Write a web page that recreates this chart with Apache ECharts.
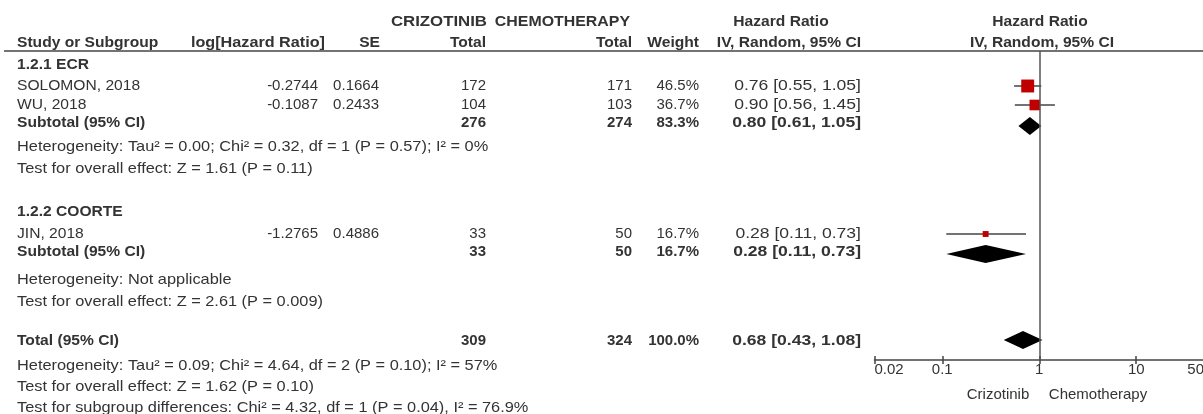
<!DOCTYPE html>
<html>
<head>
<meta charset="utf-8">
<script src="https://cdn.jsdelivr.net/npm/echarts@6/dist/echarts.min.js"></script>
<style>
  html, body { margin: 0; padding: 0; background: #fff; }
  #chart { width: 1203px; height: 414px; }
</style>
</head>
<body>
<div id="chart"></div>
<script>
// studies
const groups = ['1.2.1 ECR', '1.2.2 COORTE'];
const studies = ['SOLOMON, 2018', 'WU, 2018', 'JIN, 2018'];
const studyGroup = [0, 0, 1];
const logHR = [-0.2744, -0.1087, -1.2765];
const se = [0.1664, 0.2433, 0.4886];
const crizTotal = [172, 104, 33];
const chemoTotal = [171, 103, 50];
const weight = [46.5, 36.7, 16.7];
const hr = [0.76, 0.90, 0.28];
const hrLow = [0.55, 0.56, 0.11];
const hrHigh = [1.05, 1.45, 0.73];

// subtotals per group
const subCriz = [276, 33];
const subChemo = [274, 50];
const subWeight = [83.3, 16.7];
const subHR = [0.80, 0.28];
const subLow = [0.61, 0.11];
const subHigh = [1.05, 0.73];
const subHet = [
  'Heterogeneity: Tau² = 0.00; Chi² = 0.32, df = 1 (P = 0.57); I² = 0%',
  'Heterogeneity: Not applicable'
];
const subTest = [
  'Test for overall effect: Z = 1.61 (P = 0.11)',
  'Test for overall effect: Z = 2.61 (P = 0.009)'
];

// overall
const totalCriz = 309;
const totalChemo = 324;
const totalWeight = 100.0;
const totalHR = [0.68, 0.43, 1.08]; // est, low, high
const totalNotes = [
  'Heterogeneity: Tau² = 0.09; Chi² = 4.64, df = 2 (P = 0.10); I² = 57%',
  'Test for overall effect: Z = 1.62 (P = 0.10)',
  'Test for subgroup differences: Chi² = 4.32, df = 1 (P = 0.04), I² = 76.9%'
];

const axisTicks = [0.02, 0.1, 1, 10, 50];
const favours = ['Crizotinib', 'Chemotherapy'];

// row layout (pixel rows)
const rowStudy = [86, 105, 234];
const rowGroup = [65, 212];
const rowSub = [123, 252];
const rowSubDiamond = [126, 254];
const rowHet = [147, 280];
const rowTest = [169, 302];
const rowTotal = 341;
const rowTotalDiamond = 340;
const rowNotes = [366, 387, 408];

const FONT = '"Liberation Sans", Arial, sans-serif';
const TXT = '#333';
const col = { name: 17, loghr: 318, se: 379, criz: 486, chemo: 632, weight: 699, ci: 861 };
// horizontal stretch of the source text
const SX = { plain: 1.04, note: 1.09, ci: 1.17, head: 1.04 };

const ciText = (e, l, h) => e.toFixed(2) + ' [' + l.toFixed(2) + ', ' + h.toFixed(2) + ']';

const texts = [];
function txt(s, x, y, align, bold, sx) {
  texts.push({
    type: 'text', x: x, y: y, scaleX: sx || 1, silent: true,
    style: {
      text: String(s), x: 0, y: 0, fill: TXT,
      fontSize: 15, fontFamily: FONT, fontWeight: bold ? 'bold' : 'normal',
      textAlign: align || 'left', textVerticalAlign: 'middle'
    }
  });
}

// header
txt('CRIZOTINIB', col.criz + 1, 22, 'right', true, 1.12);
txt('CHEMOTHERAPY', col.chemo - 2, 22, 'right', true, 1.06);
txt('Hazard Ratio', 781, 22, 'center', true, SX.head);
txt('Hazard Ratio', 1040, 22, 'center', true, SX.head);
txt('Study or Subgroup', col.name, 43, 'left', true, SX.head);
txt('log[Hazard Ratio]', col.loghr + 7, 43, 'right', true, 1.08);
txt('SE', col.se + 1, 43, 'right', true, SX.head);
txt('Total', col.criz, 43, 'right', true, SX.head);
txt('Total', col.chemo, 43, 'right', true, SX.head);
txt('Weight', col.weight, 43, 'right', true, SX.head);
txt('IV, Random, 95% CI', col.ci, 43, 'right', true, SX.head);
txt('IV, Random, 95% CI', 1042, 43, 'center', true, SX.head);

groups.forEach((g, gi) => {
  txt(g, col.name, rowGroup[gi], 'left', true, SX.plain);
  studies.forEach((s, i) => {
    if (studyGroup[i] !== gi) return;
    const y = rowStudy[i];
    txt(s, col.name, y, 'left', false, SX.plain);
    txt(logHR[i].toFixed(4), col.loghr, y, 'right');
    txt(se[i].toFixed(4), col.se, y, 'right');
    txt(crizTotal[i], col.criz, y, 'right');
    txt(chemoTotal[i], col.chemo, y, 'right');
    txt(weight[i].toFixed(1) + '%', col.weight, y, 'right');
    txt(ciText(hr[i], hrLow[i], hrHigh[i]), col.ci, y, 'right', false, SX.ci);
  });
  const ys = rowSub[gi];
  txt('Subtotal (95% CI)', col.name, ys, 'left', true, SX.plain);
  txt(subCriz[gi], col.criz, ys, 'right', true);
  txt(subChemo[gi], col.chemo, ys, 'right', true);
  txt(subWeight[gi].toFixed(1) + '%', col.weight, ys, 'right', true);
  txt(ciText(subHR[gi], subLow[gi], subHigh[gi]), col.ci, ys, 'right', true, SX.ci);
  txt(subHet[gi], col.name, rowHet[gi], 'left', false, SX.note);
  txt(subTest[gi], col.name, rowTest[gi], 'left', false, SX.note);
});

txt('Total (95% CI)', col.name, rowTotal, 'left', true, SX.plain);
txt(totalCriz, col.criz, rowTotal, 'right', true);
txt(totalChemo, col.chemo, rowTotal, 'right', true);
txt(totalWeight.toFixed(1) + '%', col.weight, rowTotal, 'right', true);
txt(ciText(totalHR[0], totalHR[1], totalHR[2]), col.ci, rowTotal, 'right', true, SX.ci);
totalNotes.forEach((n, i) => txt(n, col.name, rowNotes[i], 'left', false, SX.note));

txt(favours[0], 998, 395, 'center');
txt(favours[1], 1098, 395, 'center');

// header rule
texts.push({
  type: 'line', silent: true,
  shape: { x1: 4, y1: 51, x2: 1203, y2: 51 },
  style: { stroke: '#444', lineWidth: 1.5 }
});

const chart = echarts.init(document.getElementById('chart'));

const baseX = {
  type: 'log', logBase: 10, min: 0.02, max: 50,
  position: 'bottom',
  splitLine: { show: false }
};

chart.setOption({
  animation: false,
  grid: { left: 874.5, top: 51, width: 329.5, height: 309, outerBoundsMode: 'none', containLabel: false },
  xAxis: [
    Object.assign({}, baseX, {
      axisLine: { lineStyle: { color: '#444', width: 1.5 } },
      axisTick: { inside: true, length: 4, customValues: axisTicks, lineStyle: { color: '#444', width: 1.5 } },
      axisLabel: {
        customValues: axisTicks, color: TXT, fontSize: 15, fontFamily: FONT, margin: 2,
        alignMinLabel: 'left', alignMaxLabel: 'right',
        formatter: v => String(+v.toPrecision(3))
      }
    }),
    Object.assign({}, baseX, {
      axisLine: { show: false },
      axisTick: { inside: false, length: 4, customValues: axisTicks, lineStyle: { color: '#444', width: 1.5 } },
      axisLabel: { show: false }
    })
  ],
  yAxis: { type: 'value', min: 51, max: 360, inverse: true, show: false },
  series: [
    {
      type: 'custom',
      name: 'ci',
      silent: true,
      z: 2,
      data: studies.map((s, i) => [hrLow[i], hrHigh[i], rowStudy[i]]),
      renderItem: (params, api) => {
        const a = api.coord([api.value(0), api.value(2)]);
        const b = api.coord([api.value(1), api.value(2)]);
        return {
          type: 'line',
          shape: { x1: a[0], y1: a[1], x2: b[0], y2: b[1] },
          style: { stroke: '#444', lineWidth: 1.5 }
        };
      },
      markLine: {
        silent: true, symbol: 'none', label: { show: false },
        lineStyle: { color: '#555', width: 1.5, type: 'solid' },
        data: [{ xAxis: 1 }]
      }
    },
    {
      type: 'scatter',
      name: 'study',
      silent: true,
      z: 3,
      symbol: 'rect',
      symbolSize: d => 2 + 0.235 * d[2],
      itemStyle: { color: '#c00000', opacity: 1 },
      data: studies.map((s, i) => [hr[i], rowStudy[i], weight[i]])
    },
    {
      type: 'custom',
      name: 'pooled',
      silent: true,
      z: 3,
      data: subHR.map((h, i) => [subLow[i], h, subHigh[i], rowSubDiamond[i]])
        .concat([[totalHR[1], totalHR[0], totalHR[2], rowTotalDiamond]]),
      renderItem: (params, api) => {
        const y = api.value(3);
        const l = api.coord([api.value(0), y]);
        const m = api.coord([api.value(1), y]);
        const r = api.coord([api.value(2), y]);
        return {
          type: 'polygon',
          shape: { points: [[l[0], l[1]], [m[0], m[1] - 9], [r[0], r[1]], [m[0], m[1] + 9]] },
          style: { fill: '#000' }
        };
      }
    }
  ],
  graphic: texts
});
</script>
</body>
</html>
